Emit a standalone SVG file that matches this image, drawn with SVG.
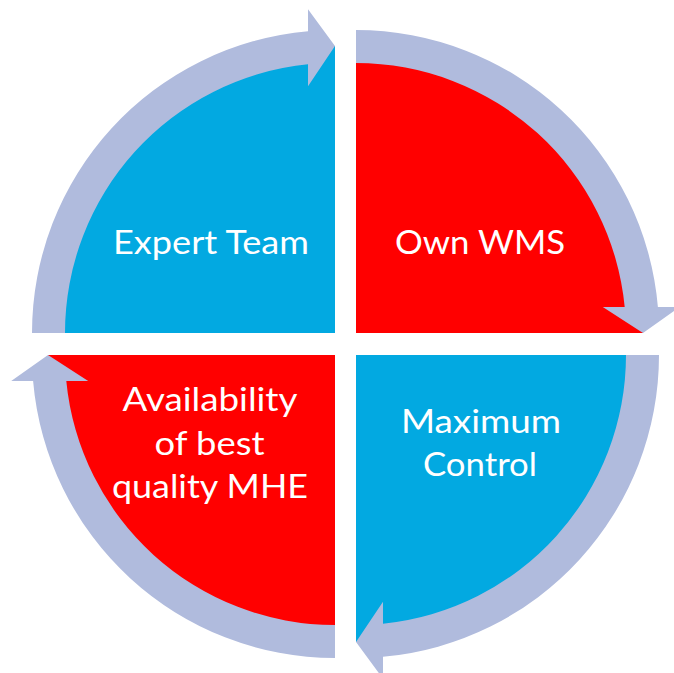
<svg xmlns="http://www.w3.org/2000/svg" width="674" height="673" viewBox="0 0 674 673">
<style>
.blue{fill:#02A9E1}
.red{fill:#FF0000}
.ring{fill:#B0BBDD}
.lbl{fill:#FFFFFF;font-family:Lato,"Open Sans","Liberation Sans",sans-serif;font-size:33px;text-anchor:middle}
</style>
<rect width="674" height="673" fill="#FFFFFF"/>
<g id="node-expert-team">
<path class="blue" d="M335,333 L48,333 A287,287 0 0 1 335,46 Z"/>
<text class="lbl" x="211" y="254" textLength="196" lengthAdjust="spacingAndGlyphs">Expert Team</text>
</g>
<g id="node-own-wms">
<path class="red" d="M356,333 L356,46 A287,287 0 0 1 643,333 Z"/>
<text class="lbl" x="480" y="254" textLength="170" lengthAdjust="spacingAndGlyphs">Own WMS</text>
</g>
<g id="node-maximum-control">
<path class="blue" d="M356,355 L643,355 A287,287 0 0 1 356,642 Z"/>
<text class="lbl" x="481" y="433" textLength="160" lengthAdjust="spacingAndGlyphs">Maximum</text>
<text class="lbl" x="480" y="476" textLength="114" lengthAdjust="spacingAndGlyphs">Control</text>
</g>
<g id="node-availability">
<path class="red" d="M335,355 L335,642 A287,287 0 0 1 48,355 Z"/>
<text class="lbl" x="210" y="411" textLength="175" lengthAdjust="spacingAndGlyphs">Availability</text>
<text class="lbl" x="209.5" y="455" textLength="110" lengthAdjust="spacingAndGlyphs">of best</text>
<text class="lbl" x="210" y="498" textLength="196" lengthAdjust="spacingAndGlyphs">quality MHE</text>
</g>
<g id="connectors">
<path class="ring" d="M32,333 A303,303 0 0 1 308,31.2 L308,9.3 L335,46 L308,86.3 L308,64.35 A270,270 0 0 0 65,333 Z"/>
<path class="ring" d="M356,30 A303,303 0 0 1 657.9,307 L679.8,307 L643,333 L602.8,307 L624.7,307 A270,270 0 0 0 356,63 Z"/>
<path class="ring" d="M659,355 A303,303 0 0 1 383,656.8 L383,678.7 L356,642 L383,601.7 L383,623.65 A270,270 0 0 0 626,355 Z"/>
<path class="ring" d="M335,658 A303,303 0 0 1 33.1,381 L11.2,381 L48,355 L88.2,381 L66.3,381 A270,270 0 0 0 335,625 Z"/>
</g>
</svg>
